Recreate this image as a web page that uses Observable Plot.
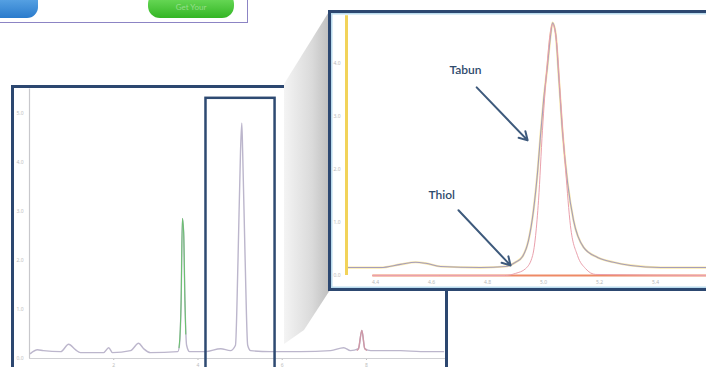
<!DOCTYPE html>
<html>
<head>
<meta charset="utf-8">
<script src="https://cdn.jsdelivr.net/npm/d3@7"></script>
<script src="https://cdn.jsdelivr.net/npm/@observablehq/plot@0.6"></script>
<style>
  html, body { margin: 0; padding: 0; background: #fff; }
  #root { position: relative; width: 706px; height: 367px; overflow: hidden; background: #fff; font-family: Lato, "Open Sans", sans-serif; }
  .abs { position: absolute; box-sizing: border-box; }
</style>
</head>
<body>
<div id="root">
  <div class="abs" style="left:-4px; top:-6px; width:252px; height:29px; border-right:1.5px solid #8c84c4; border-bottom:1.5px solid #8c84c4;"></div>
  <div class="abs" style="left:-16px; top:-10px; width:54px; height:28px; border-radius:11px; background:linear-gradient(#6cb4ee,#2a7bcc);"></div>
  <div class="abs" style="left:148px; top:-8px; width:86px; height:26px; border-radius:12px; background:linear-gradient(#7ae468,#33b524); color:rgba(255,255,255,0.4); font-size:8px; text-align:center; line-height:30px;">Get Your</div>
</div>
<script>
// ---------- main chromatogram (time in min, intensity) ----------
const mainTime = [0.02,0.19,0.33,0.74,0.93,1.09,1.21,1.76,1.88,1.97,2.40,2.59,2.71,2.87,3.52,3.56,3.60,3.63,3.66,3.69,3.73,3.80,4.18,4.54,4.77,4.89,4.95,5.01,5.04,5.06,5.12,5.18,5.25,5.72,6.44,7.15,7.46,7.62,7.81,7.89,7.96,8.10,8.81,9.29,9.83];
const mainSignal = [0.10,0.18,0.16,0.14,0.29,0.18,0.12,0.12,0.22,0.12,0.16,0.31,0.20,0.12,0.14,0.27,1.18,2.86,2.57,1.18,0.27,0.14,0.14,0.20,0.16,0.27,2.00,4.24,4.80,4.24,2.00,0.27,0.16,0.14,0.14,0.16,0.22,0.16,0.20,0.57,0.20,0.16,0.16,0.14,0.14];
const greenTime = [3.55,3.58,3.60,3.63,3.66,3.69,3.71];
const greenSignal = [0.22,0.6,1.18,2.86,2.57,1.18,0.5];
const pinkTime = [7.78,7.81,7.89,7.96,8.00];
const pinkSignal = [0.17,0.20,0.57,0.20,0.17];
const mainXTicks = [2,4,6,8];
const mainYTicks = [0,1,2,3,4,5];
const zoomWindow = [{start: 4.19, end: 5.83, low: -0.7, high: 5.31}];

// ---------- zoomed inset ----------
const insetTime = [4.296,4.418,4.489,4.543,4.579,4.632,4.775,4.864,4.900,4.925,4.946,4.964,4.979,4.989,5.000,5.014,5.025,5.032,5.043,5.054,5.068,5.086,5.107,5.143,5.193,5.250,5.311,5.418,5.582];
const tabunSignal = [0.15,0.15,0.21,0.25,0.23,0.17,0.15,0.17,0.25,0.36,0.66,1.23,1.98,2.64,3.30,3.96,4.53,4.77,4.57,3.77,2.68,1.74,1.04,0.53,0.34,0.25,0.19,0.15,0.15];
const thiolTime = [4.390,4.864,4.900,4.936,4.961,4.982,4.996,5.011,5.025,5.032,5.046,5.061,5.079,5.096,5.121,5.150,5.186,5.582];
const thiolSignal = [0,0,0.04,0.13,0.38,1.42,2.74,3.87,4.62,4.74,4.43,3.30,1.98,0.94,0.38,0.13,0.02,0];
const insetXTicks = [4.4,4.6,4.8,5.0,5.2,5.4];
const insetYTicks = [0,1,2,3,4];
const labels = ["Tabun", "Thiol"];
const labelTime = [4.721, 4.636];
const labelSignal = [3.87, 1.51];
const arrowFrom = [[4.761, 3.55], [4.696, 1.23]];
const arrowTo = [[4.943, 2.55], [4.882, 0.19]];

const mainData = mainTime.map((t, i) => ({t, v: mainSignal[i]}));
const greenData = greenTime.map((t, i) => ({t, v: greenSignal[i]}));
const pinkData = pinkTime.map((t, i) => ({t, v: pinkSignal[i]}));
const tabunData = insetTime.map((t, i) => ({t, v: tabunSignal[i]}));
const thiolData = thiolTime.map((t, i) => ({t, v: thiolSignal[i]}));
const labelData = labels.map((name, i) => ({name, t: labelTime[i], v: labelSignal[i]}));
const arrowData = arrowFrom.map((f, i) => ({x1: f[0], y1: f[1], x2: arrowTo[i][0], y2: arrowTo[i][1]}));

const root = document.getElementById("root");

// main chart
const mainPlot = Plot.plot({
  width: 436, height: 292,
  marginLeft: 17, marginRight: 2, marginTop: 2.5, marginBottom: 20,
  style: {overflow: "visible", background: "transparent", fontSize: "5px", color: "#bdbdbd"},
  x: {domain: [0, 9.9], ticks: mainXTicks, tickSize: 2, tickPadding: 3, label: null},
  y: {domain: [0, 5.5], ticks: mainYTicks, tickSize: 0, tickPadding: 6, label: null},
  marks: [
    Plot.ruleX([0], {stroke: "#c8c8cc", strokeWidth: 1.2}),
    Plot.ruleY([0], {stroke: "#d0d0d4", strokeWidth: 1.2}),
    Plot.line(mainData, {x: "t", y: "v", stroke: "#bcb6cc", strokeWidth: 1.4, curve: "monotone-x"}),
    Plot.line(greenData, {x: "t", y: "v", stroke: "#6cbf72", strokeWidth: 1.1, curve: "monotone-x"}),
    Plot.line(pinkData, {x: "t", y: "v", stroke: "#cf98a6", strokeWidth: 1.4, curve: "monotone-x"}),
    Plot.rect(zoomWindow, {x1: "start", x2: "end", y1: "low", y2: "high", fill: "none", stroke: "#2e4a72", strokeWidth: 2.5})
  ]
});
mainPlot.style.position = "absolute";
mainPlot.style.left = "12px";
mainPlot.style.top = "86px";
root.appendChild(mainPlot);

const mainFrame = document.createElement("div");
mainFrame.className = "abs";
mainFrame.style.cssText = "left:11px; top:85px; width:437px; height:300px; border:3px solid #2c4770;";
root.appendChild(mainFrame);

// shadow connecting selection to inset
const shadow = document.createElement("div");
shadow.className = "abs";
shadow.style.cssText = "left:284px; top:10px; width:47px; height:340px; background:linear-gradient(to right,#f4f4f4,#dadada 60%,#bcbcbc); clip-path:polygon(0px 74px, 46px 0px, 46px 280px, 20px 320px, 0px 334px);";
root.appendChild(shadow);

// inset frame
const inset = document.createElement("div");
inset.className = "abs";
inset.style.cssText = "left:328px; top:10px; width:392px; height:281px; border:3px solid #2c4770; background:#fff; box-shadow: inset 0 0 0 1.5px #b9dbee;";
root.appendChild(inset);

const insetPlot = Plot.plot({
  width: 376, height: 274,
  marginLeft: 15, marginRight: 1, marginTop: 2.3, marginBottom: 12,
  style: {overflow: "visible", background: "transparent", fontSize: "5px", color: "#b8b8b8"},
  x: {domain: [4.296, 5.582], ticks: insetXTicks, tickSize: 0, tickPadding: 5, tickFormat: d3.format(".1f"), label: null},
  y: {domain: [0, 4.9], ticks: insetYTicks, tickSize: 0, tickPadding: 6, label: null},
  marks: [
    Plot.ruleY([0], {x1: thiolTime[0], x2: thiolTime[thiolTime.length - 1], stroke: "#ee8a66", strokeWidth: 2}),
    Plot.line(tabunData, {x: "t", y: "v", stroke: "#f6d86a", strokeWidth: 2.2, strokeOpacity: 0.6, curve: "monotone-x"}),
    Plot.line(tabunData, {x: "t", y: "v", stroke: "#a59dbc", strokeWidth: 1.1, curve: "monotone-x"}),
    Plot.line(thiolData, {x: "t", y: "v", stroke: "#eaa0ac", strokeWidth: 1, curve: "monotone-x"}),
    Plot.ruleX([4.296], {stroke: "#f2d35a", strokeWidth: 3}),
    Plot.arrow(arrowData, {x1: "x1", y1: "y1", x2: "x2", y2: "y2", stroke: "#3e5a7c", strokeWidth: 2, headLength: 7}),
    Plot.text(labelData, {x: "t", y: "v", text: "name", fill: "#2f4b6c", fontSize: 12, fontWeight: 600, fontFamily: "Lato, 'Open Sans', sans-serif"})
  ]
});
insetPlot.style.position = "absolute";
insetPlot.style.left = "331px";
insetPlot.style.top = "13px";
root.appendChild(insetPlot);
</script>
</body>
</html>
